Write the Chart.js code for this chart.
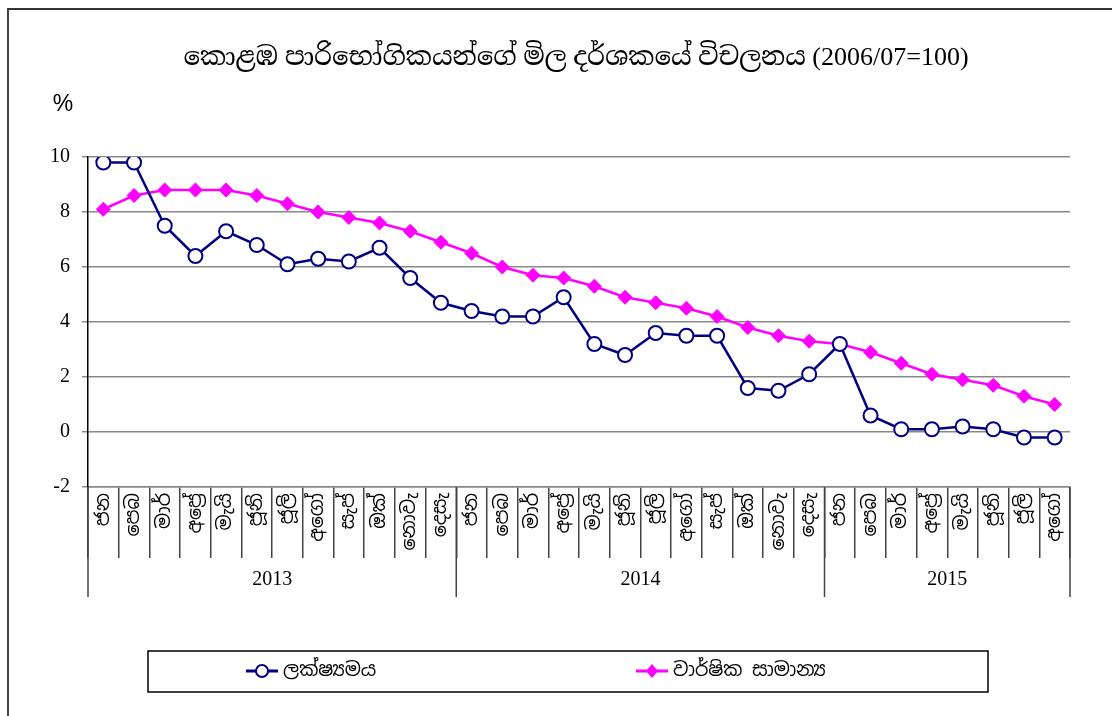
<!DOCTYPE html>
<html>
<head>
<meta charset="utf-8">
<script src="https://cdn.jsdelivr.net/npm/chart.js@4.4.0/dist/chart.umd.min.js"></script>
<style>
  body { margin: 0; background: #fff; }
  #wrap { position: relative; width: 1112px; height: 716px; overflow: hidden; }
  #frame { position: absolute; left: 7px; top: 8px; width: 1200px; height: 800px;
           border-left: 2px solid #444; border-top: 2px solid #333; }
  #c { position: absolute; left: 0; top: 0; }
</style>
</head>
<body>
<div id="wrap">
  <div id="frame"></div>
  <canvas id="c" width="1112" height="716"></canvas>
</div>
<script>
const months = ['ජන', 'පෙබ', 'මාර්', 'අප්‍රේ', 'මැයි', 'ජූනි', 'ජූලි', 'අගෝ', 'සැප්', 'ඔක්', 'නොවැ', 'දෙසැ'];
const years = ['2013', '2014', '2015'];
const monthsIn2015 = 8;

// point to point change (blue) and annual average (pink), %
const pointToPoint = [9.8, 9.8, 7.5, 6.4, 7.3, 6.8, 6.1, 6.3, 6.2, 6.7, 5.6, 4.7,
                      4.4, 4.2, 4.2, 4.9, 3.2, 2.8, 3.6, 3.5, 3.5, 1.6, 1.5, 2.1,
                      3.2, 0.6, 0.1, 0.1, 0.2, 0.1, -0.2, -0.2];
const annualAvg = [8.1, 8.6, 8.8, 8.8, 8.8, 8.6, 8.3, 8.0, 7.8, 7.6, 7.3, 6.9,
                   6.5, 6.0, 5.7, 5.6, 5.3, 4.9, 4.7, 4.5, 4.2, 3.8, 3.5, 3.3,
                   3.2, 2.9, 2.5, 2.1, 1.9, 1.7, 1.3, 1.0];

const titleText = 'කොළඹ පාරිභෝගිකයන්ගේ මිල දර්ශකයේ විචලනය (2006/07=100)';
const seriesNames = ['ලක්ෂ්‍යමය', 'වාර්ෂික සාමාන්‍ය'];

let labels = [];
years.forEach(function (y, i) {
    const n = (i === years.length - 1) ? monthsIn2015 : 12;
    for (let m = 0; m < n; m++) labels.push(months[m]);
});

const SERIF = '"Liberation Serif", "Times New Roman", "Noto Serif Sinhala", serif';
const SINH = '"Iskoola Pota", "Noto Sans Sinhala", "Noto Serif Sinhala", "Liberation Serif", serif';
const NAVY = '#000080';
const PINK = '#ff00ff';

// years row, title, % and legend
const extras = {
    id: 'extras',
    afterDraw: function (chart) {
        const ctx = chart.ctx;
        const xs = chart.scales.x;
        const area = chart.chartArea;
        const half = (xs.getPixelForValue(1) - xs.getPixelForValue(0)) / 2;

        ctx.save();
        ctx.strokeStyle = '#444';
        ctx.lineWidth = 1.5;
        ctx.fillStyle = '#000';
        ctx.font = '20px ' + SERIF;
        ctx.textAlign = 'center';
        ctx.textBaseline = 'middle';
        let start = 0;
        years.forEach(function (y, i) {
            const n = (i === years.length - 1) ? monthsIn2015 : 12;
            const x0 = xs.getPixelForValue(start) - half;
            const x1 = xs.getPixelForValue(start + n - 1) + half;
            ctx.beginPath();
            ctx.moveTo(x0, area.bottom);
            ctx.lineTo(x0, 597);
            if (i === years.length - 1) {
                ctx.moveTo(x1, area.bottom);
                ctx.lineTo(x1, 597);
            }
            ctx.stroke();
            ctx.fillText(y, (x0 + x1) / 2, 580);
            start += n;
        });

        // title
        ctx.font = '26px ' + SERIF;
        ctx.fillText(titleText, 576, 58);

        // % sign
        ctx.font = '23px "Liberation Sans", Arial, sans-serif';
        ctx.fillText('%', 63, 105);

        // legend
        ctx.strokeStyle = '#000';
        ctx.lineWidth = 1.5;
        ctx.strokeRect(148, 651, 840, 41);
        const ly = 671;
        ctx.lineWidth = 3;
        ctx.strokeStyle = NAVY;
        ctx.beginPath();
        ctx.moveTo(246, ly);
        ctx.lineTo(278, ly);
        ctx.stroke();
        ctx.lineWidth = 2;
        ctx.fillStyle = '#fff';
        ctx.beginPath();
        ctx.arc(262, ly, 6, 0, Math.PI * 2);
        ctx.fill();
        ctx.stroke();

        ctx.lineWidth = 3;
        ctx.strokeStyle = PINK;
        ctx.beginPath();
        ctx.moveTo(636, ly);
        ctx.lineTo(668, ly);
        ctx.stroke();
        ctx.fillStyle = PINK;
        ctx.beginPath();
        ctx.moveTo(652, ly - 7);
        ctx.lineTo(658, ly);
        ctx.lineTo(652, ly + 7);
        ctx.lineTo(646, ly);
        ctx.closePath();
        ctx.fill();

        ctx.fillStyle = '#000';
        ctx.font = '19px ' + SINH;
        ctx.textAlign = 'left';
        ctx.fillText(seriesNames[0], 283, ly);
        ctx.fillText(seriesNames[1], 673, ly);
        ctx.restore();
    }
};

new Chart(document.getElementById('c'), {
    type: 'line',
    data: {
        labels: labels,
        datasets: [{
            label: seriesNames[0],
            data: pointToPoint,
            borderColor: NAVY,
            borderWidth: 2.5,
            pointStyle: 'circle',
            pointRadius: 7,
            pointBorderWidth: 2,
            pointBackgroundColor: '#fff',
            pointBorderColor: NAVY,
            tension: 0
        }, {
            label: seriesNames[1],
            data: annualAvg,
            borderColor: PINK,
            borderWidth: 2.5,
            pointStyle: 'rectRot',
            pointRadius: 7,
            pointBorderWidth: 1,
            pointBackgroundColor: PINK,
            pointBorderColor: PINK,
            tension: 0
        }]
    },
    options: {
        responsive: false,
        animation: false,
        layout: { padding: { left: 8, top: 157, right: 42, bottom: 119 } },
        plugins: {
            legend: { display: false },
            title: { display: false },
            tooltip: { enabled: false }
        },
        scales: {
            x: {
                type: 'category',
                offset: true,
                afterFit: function (s) { s.height = 110; },
                grid: {
                    offset: true,
                    drawOnChartArea: false,
                    tickLength: 71,
                    color: '#444',
                    lineWidth: 1.5
                },
                border: { color: '#888', width: 1.5 },
                ticks: {
                    autoSkip: false,
                    minRotation: 90,
                    maxRotation: 90,
                    padding: -65,
                    color: '#000',
                    font: { family: SINH, size: 19 }
                }
            },
            y: {
                min: -2,
                max: 10,
                afterFit: function (s) { s.width = 80; },
                ticks: {
                    stepSize: 2,
                    padding: 12,
                    color: '#000',
                    font: { family: SERIF, size: 20 }
                },
                grid: { color: '#888', lineWidth: 1.5, tickLength: 6 },
                border: { color: '#000', width: 1.5 }
            }
        }
    },
    plugins: [extras]
});
</script>
</body>
</html>
